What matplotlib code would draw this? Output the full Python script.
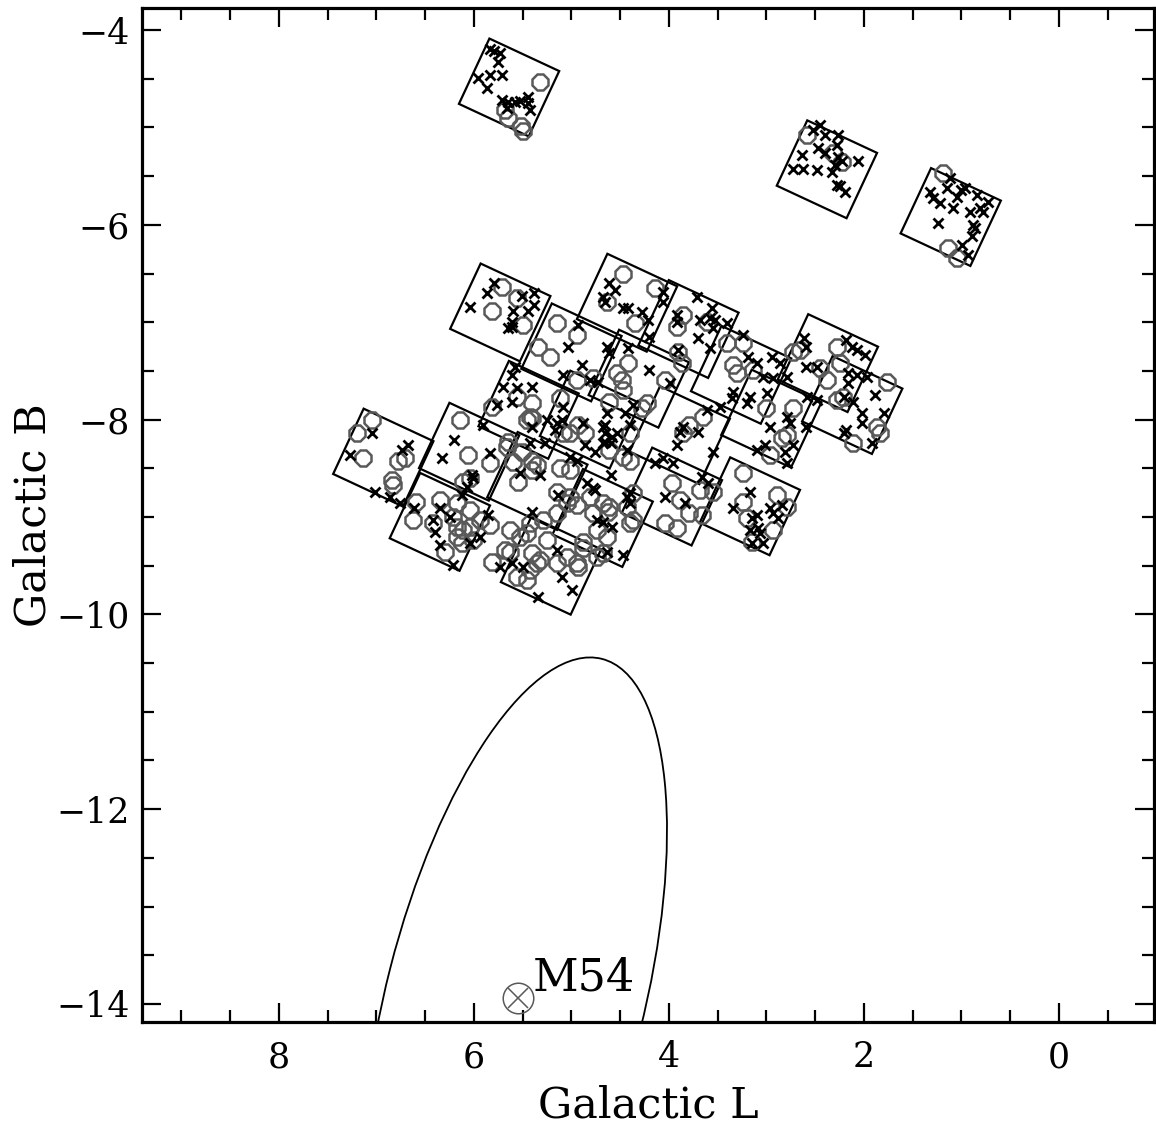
import matplotlib
matplotlib.use("Agg")
import matplotlib.pyplot as plt
from matplotlib.patches import Ellipse, Rectangle
from matplotlib.ticker import MultipleLocator

# ---------------- data (Galactic L, Galactic B in degrees) ----------------
# field centres (rotated boxes)
field_l = [5.64, 2.38, 1.11, 5.73, 4.43, 3.80, 5.00, 3.26, 2.37, 2.12, 5.44, 4.31,
           6.93, 6.05, 6.35, 5.35, 4.68, 5.21, 3.97, 3.17, 2.95, 3.89, 4.81]
field_b = [-4.59, -5.43, -5.92, -6.90, -6.80, -7.07, -7.31, -7.54, -7.42, -7.85, -7.90, -7.58,
           -8.39, -8.33, -9.05, -8.63, -9.01, -9.50, -8.79, -8.89, -7.99, -8.16, -8.00]
field_w = 0.79
field_h = 0.74
field_angle = 25.0

# crosses (black x)
crosses_north = [
    (5.84, -4.20), (5.79, -4.22), (5.73, -4.24), (5.75, -4.33), (5.96, -4.49), (5.84, -4.46),
    (5.71, -4.46), (5.87, -4.60), (5.71, -4.72), (5.65, -4.74), (5.58, -4.74), (5.53, -4.73),
    (5.45, -4.69), (5.45, -4.75), (5.43, -4.82), (5.66, -4.80),
    (2.52, -5.03), (2.45, -4.98), (2.40, -5.08), (2.27, -5.08), (2.64, -5.28), (2.47, -5.21),
    (2.40, -5.26), (2.28, -5.18), (2.27, -5.30), (2.23, -5.34), (2.06, -5.34), (2.73, -5.43),
    (2.63, -5.43), (2.48, -5.44), (2.33, -5.46), (2.30, -5.39), (2.28, -5.59), (2.25, -5.60),
    (2.19, -5.66),
    (1.12, -5.52), (1.15, -5.62), (1.32, -5.66), (1.29, -5.72), (1.22, -5.78), (1.05, -5.71),
    (1.00, -5.64), (0.96, -5.62), (0.84, -5.69), (0.73, -5.77), (1.09, -5.83), (0.91, -5.87),
    (0.81, -5.83), (0.78, -5.87), (1.24, -5.98), (0.88, -6.00), (0.86, -6.03), (0.89, -6.12),
    (0.99, -6.21), (0.93, -6.31),
]
crosses_upper = [
    (5.79, -6.60), (5.87, -6.70), (5.51, -6.73), (5.38, -6.70), (5.38, -6.82), (5.45, -6.88),
    (5.60, -6.89), (6.04, -6.84), (5.61, -7.00), (5.65, -7.06), (5.61, -7.05),
    (4.93, -7.03), (5.04, -7.25), (4.89, -7.44), (5.09, -7.54), (4.81, -7.59), (5.58, -7.46),
    (5.61, -7.54), (5.70, -7.67), (5.56, -7.68), (5.40, -7.67), (5.76, -7.85), (5.61, -7.82),
    (5.25, -8.00), (5.15, -8.04), (5.10, -8.00), (5.09, -7.87),
    (4.61, -6.60), (4.55, -6.67), (4.68, -6.74), (4.66, -6.79), (4.47, -6.85), (4.42, -6.85),
    (4.28, -6.90), (4.22, -6.98), (4.06, -6.69), (4.06, -6.79), (3.92, -6.93), (3.92, -7.00),
    (3.71, -6.74), (3.56, -6.85), (3.68, -6.98), (3.58, -6.96), (3.53, -6.98), (3.55, -7.06),
    (3.40, -7.01), (3.70, -7.16), (4.20, -7.15), (3.58, -7.27), (3.24, -7.13), (3.19, -7.36),
    (3.10, -7.42), (2.94, -7.36), (3.04, -7.56), (2.86, -7.42), (2.93, -7.57), (2.79, -7.56),
    (2.99, -7.73), (3.17, -7.77), (3.20, -7.83), (3.34, -7.72), (3.35, -7.78), (3.48, -7.87),
    (3.61, -7.90), (4.20, -7.49), (3.91, -7.29), (3.99, -7.62), (4.64, -7.25), (4.61, -7.32),
    (4.64, -7.93), (4.37, -7.85),
    (2.61, -7.16), (2.59, -7.25), (2.59, -7.46), (2.48, -7.46), (2.18, -7.18), (2.12, -7.25),
    (2.07, -7.29), (1.99, -7.34), (2.16, -7.52), (2.07, -7.54), (1.97, -7.56), (2.16, -7.62),
    (2.20, -7.77), (2.11, -7.82), (1.89, -7.75), (2.02, -7.93), (2.02, -8.04), (2.58, -7.77),
    (2.48, -7.80), (2.79, -7.97), (2.76, -8.04), (2.96, -8.08), (2.59, -8.08), (2.18, -8.11),
    (1.79, -7.93), (3.86, -8.08), (3.89, -8.13), (3.70, -8.13),
    (4.73, -7.61), (4.42, -7.27), (4.45, -7.93), (4.66, -8.06), (4.58, -8.18), (4.66, -8.23),
    (4.86, -8.26), (4.76, -8.33), (5.43, -8.24), (5.27, -8.24), (5.02, -8.38), (4.94, -8.42),
    (5.84, -8.34), (5.53, -8.55), (5.32, -8.57), (4.59, -8.57), (4.14, -8.45), (4.06, -8.39),
    (5.91, -8.06),
]
crosses_lower = [
    (7.05, -8.14), (7.27, -8.36), (6.68, -8.26), (6.74, -8.31), (7.02, -8.74), (6.86, -8.79),
    (6.76, -8.86),
    (6.61, -8.91), (6.35, -8.91), (6.25, -9.00), (6.42, -9.03), (6.40, -9.15), (6.35, -9.29),
    (6.22, -9.49), (6.04, -9.27), (5.94, -9.21), (5.86, -8.98),
    (6.20, -8.21), (6.33, -8.39), (6.02, -8.57), (6.01, -8.60), (6.07, -8.69), (6.12, -8.77),
    (5.73, -9.51), (5.61, -9.47), (5.50, -9.51), (5.34, -9.82), (5.10, -9.62), (4.99, -9.75),
    (5.15, -9.34), (5.40, -8.95), (4.74, -9.03), (4.78, -8.70), (4.84, -8.65), (5.14, -8.77),
    (4.68, -9.05), (4.64, -9.36),
    (5.40, -8.08), (5.17, -8.11), (4.88, -8.04), (4.68, -8.08), (4.66, -8.14), (4.53, -8.14),
    (4.40, -8.06), (4.68, -8.24), (4.59, -8.24), (4.43, -8.31), (4.76, -8.72), (4.43, -8.79),
    (4.40, -8.86), (4.58, -9.10), (4.47, -9.39),
    (3.96, -8.45), (4.04, -8.79), (3.84, -8.86), (3.66, -8.59), (3.60, -8.65), (4.40, -8.75),
    (3.92, -8.26), (3.55, -8.33),
    (3.17, -8.74), (3.34, -8.91), (3.15, -9.01), (3.10, -8.98), (2.96, -8.91), (2.84, -8.88),
    (2.93, -8.96), (2.88, -9.01), (3.17, -9.13), (3.09, -9.11), (3.07, -9.16), (3.15, -9.27),
    (3.04, -9.27),
    (3.10, -8.31), (3.02, -8.26), (2.81, -8.33), (2.73, -8.26), (2.79, -8.45), (2.20, -8.14),
    (1.92, -8.24),
]

# circles (grey octagons)
circles_north = [
    (5.32, -4.53), (5.68, -4.82), (5.65, -4.90), (5.52, -4.99), (5.50, -5.04),
    (2.58, -5.08), (2.32, -5.26), (2.23, -5.36),
    (1.19, -5.47), (1.14, -6.24), (1.05, -6.34),
]
circles_upper = [
    (5.71, -6.64), (5.56, -6.75), (5.81, -6.88), (5.50, -7.03),
    (5.15, -7.01), (4.94, -7.13), (5.34, -7.25), (5.22, -7.36), (4.94, -7.59), (4.78, -7.57),
    (5.12, -7.78), (5.40, -7.83), (5.46, -8.00), (5.56, -7.77), (5.81, -7.87), (4.93, -8.06),
    (4.53, -7.52), (4.48, -7.59), (4.47, -7.70), (4.42, -7.42), (4.35, -7.01), (4.23, -7.83),
    (4.28, -7.88), (4.61, -7.82), (5.40, -7.98), (5.02, -8.14), (4.86, -8.14), (4.61, -8.31),
    (4.47, -8.38), (4.40, -8.14), (4.04, -7.59), (5.66, -8.28), (5.60, -8.44), (5.84, -8.45),
    (5.40, -8.52), (5.02, -8.52),
    (4.47, -6.50), (4.64, -6.79), (4.14, -6.65), (3.86, -6.93), (3.92, -7.05), (3.61, -7.00),
    (3.40, -7.21), (3.24, -7.21), (3.34, -7.44), (3.30, -7.52), (3.14, -7.49), (3.91, -7.31),
    (3.87, -7.42), (3.00, -7.88), (2.73, -7.88), (3.65, -7.97), (2.66, -7.29), (2.73, -7.31),
    (2.28, -7.25), (2.45, -7.47), (2.38, -7.59), (2.25, -7.42), (2.22, -7.77), (2.28, -7.80),
    (1.76, -7.61), (1.87, -8.08), (2.79, -8.16), (3.79, -8.06), (3.86, -8.14),
]
circles_lower = [
    (7.05, -8.00), (7.20, -8.14), (7.14, -8.39), (6.78, -8.42), (6.71, -8.39), (6.84, -8.62),
    (6.83, -8.67),
    (6.59, -8.85), (6.63, -9.03), (6.35, -8.83), (6.22, -9.00), (6.17, -9.10), (6.30, -9.36),
    (6.42, -9.06), (6.12, -9.27), (6.04, -9.10), (6.01, -9.24), (6.11, -9.13), (5.84, -9.08),
    (6.06, -8.36), (6.11, -8.64), (6.04, -8.60), (6.14, -8.00), (5.65, -8.23), (5.51, -8.33),
    (5.35, -8.47), (5.55, -8.64), (5.43, -7.97),
    (5.81, -9.46), (5.68, -9.34), (5.53, -9.21), (5.46, -9.16), (5.40, -9.37), (5.35, -9.47),
    (5.43, -9.54), (5.25, -9.24), (5.15, -9.47), (4.94, -9.47), (4.88, -9.32), (4.68, -9.37),
    (4.74, -9.13), (4.78, -8.96), (4.63, -8.95), (5.02, -8.79), (5.15, -8.74), (4.94, -8.88),
    (5.40, -8.42), (5.12, -8.50), (5.29, -9.03), (5.63, -9.13), (5.05, -8.86), (5.15, -8.96),
    (5.09, -8.14), (4.40, -8.42), (4.81, -8.79), (4.68, -8.86), (4.43, -8.90), (4.40, -9.06),
    (4.88, -9.26), (4.74, -9.41), (5.05, -9.41), (4.93, -9.51), (5.32, -9.44), (5.56, -9.62),
    (5.46, -9.65), (5.63, -9.36), (5.43, -9.06), (6.17, -8.86), (6.04, -8.93), (5.94, -9.03),
    (6.17, -9.21),
    (3.97, -8.65), (3.89, -8.83), (3.68, -8.72), (3.55, -8.74), (3.79, -8.96), (3.66, -8.98),
    (4.04, -9.06), (3.92, -9.11), (4.37, -8.75), (4.37, -9.03), (4.61, -8.90), (4.64, -9.21),
    (3.24, -8.55), (2.89, -8.77), (2.79, -8.90), (3.24, -8.85), (3.20, -9.01), (2.93, -9.13),
    (3.15, -9.26),
    (2.84, -8.19), (2.96, -8.36), (2.11, -8.24), (1.84, -8.14),
]

# Sgr dwarf outline and M54
sgr_center = (5.58, -13.96)
sgr_major = 7.23
sgr_minor = 2.64
sgr_angle = 104.3
m54_l, m54_b = 5.55, -13.94
m54_label = "M54"

x_major = [8, 6, 4, 2, 0]
y_major = [-4, -6, -8, -10, -12, -14]

# ---------------- figure ----------------
W, H = 1156, 1128
fig = plt.figure(figsize=(W / 100, H / 100), dpi=100)
ax = fig.add_axes([142 / W, 1 - 1022 / H, 1012 / W, 1014 / H])
ax.set_xlim(9.405, -0.975)
ax.set_ylim(-14.185, -3.774)

font = "DejaVu Serif"

for cl, cb in zip(field_l, field_b):
    r = Rectangle((cl - field_w / 2, cb - field_h / 2), field_w, field_h,
                  angle=field_angle, rotation_point="center",
                  fill=False, edgecolor="black", lw=1.6, zorder=2)
    ax.add_patch(r)

grey = "#595959"
for group in (circles_north, circles_upper, circles_lower):
    ls, bs = zip(*group)
    ax.plot(ls, bs, linestyle="none", marker="8", ms=13, mfc="none",
            mec=grey, mew=1.8, zorder=3)

for group in (crosses_north, crosses_upper, crosses_lower):
    ls, bs = zip(*group)
    ax.plot(ls, bs, linestyle="none", marker="x", ms=6.5, color="black",
            mew=2.0, zorder=4)

ell = Ellipse(sgr_center, width=sgr_major, height=sgr_minor, angle=sgr_angle,
              fill=False, edgecolor="black", lw=1.3, zorder=2)
ax.add_patch(ell)

ax.plot([m54_l], [m54_b], marker="o", ms=22, mfc="none", mec=grey, mew=1.1, zorder=5)
ax.plot([m54_l], [m54_b], marker="x", ms=15, color=grey, mew=1.1, zorder=5)
ax.text(5.40, -13.86, m54_label, fontsize=32, family=font, ha="left",
        va="baseline", color="black")

# axes styling
ax.xaxis.set_minor_locator(MultipleLocator(0.5))
ax.yaxis.set_minor_locator(MultipleLocator(0.5))
ax.set_xticks(x_major)
ax.set_yticks(y_major)
ax.tick_params(which="both", direction="in", top=True, right=True, width=1.6,
               color="black")
ax.tick_params(which="major", length=14)
ax.tick_params(which="minor", length=8.5)
ax.tick_params(axis="x", which="major", pad=13)
ax.tick_params(axis="y", which="major", pad=9)
for lab in ax.get_xticklabels() + ax.get_yticklabels():
    lab.set_fontfamily(font)
    lab.set_fontsize(25)
for sp in ax.spines.values():
    sp.set_linewidth(2.3)

ax.set_xlabel("Galactic L", fontsize=31, family=font)
ax.set_ylabel("Galactic B", fontsize=31, family=font)
ax.xaxis.set_label_coords(0.5, -0.062)
ax.yaxis.set_label_coords(-0.086, 0.5)

fig.savefig("out.png", dpi=100)
